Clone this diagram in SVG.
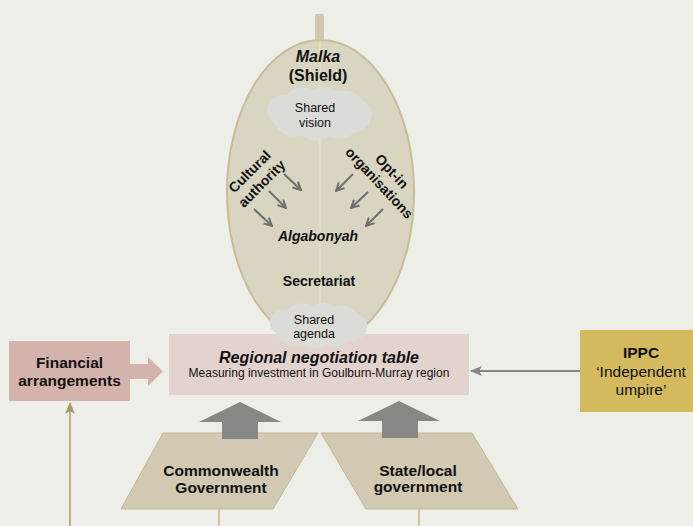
<svg xmlns="http://www.w3.org/2000/svg" width="693" height="526" viewBox="0 0 693 526">
<defs>
<style>
text{font-family:"Liberation Sans",Arial,sans-serif;fill:#111;text-anchor:middle}
.b{font-weight:bold}
.bi{font-weight:bold;font-style:italic}
.small{stroke:#6e6e6e;stroke-width:2;fill:none;marker-end:url(#chev)}
.cloud{fill:#dbdbd7}
.gov{fill:#d1c9b2;stroke:#c2b893;stroke-width:1}
.garrow{fill:#878783}
.tan{stroke:#b4a983;stroke-width:1.2;fill:none}
</style>
<marker id="chev" viewBox="0 0 10 10" refX="9" refY="5" markerWidth="10" markerHeight="10" markerUnits="userSpaceOnUse" orient="auto">
<path d="M1,1 L9,5 L1,9" fill="none" stroke="#6e6e6e" stroke-width="2"/>
</marker>
<marker id="barbGray" viewBox="0 0 12 12" refX="11" refY="6" markerWidth="12" markerHeight="12" markerUnits="userSpaceOnUse" orient="auto">
<path d="M0,1 L12,6 L0,11 L3,6 Z" fill="#858585"/>
</marker>
<marker id="barbTan" viewBox="0 0 12 12" refX="11" refY="6" markerWidth="12" markerHeight="12" markerUnits="userSpaceOnUse" orient="auto">
<path d="M0,1 L12,6 L0,11 L3,6 Z" fill="#a39a6e"/>
</marker>
<path id="cloudShape" d="M-44,9 A13,13 0 0 1 -50,-6 A16,16 0 0 1 -32,-18 A22,22 0 0 1 -6,-23 A20,20 0 0 1 18,-21 A20,20 0 0 1 42,-12 A13,13 0 0 1 50,6 A16,16 0 0 1 34,19 A20,20 0 0 1 10,23 A20,20 0 0 1 -16,22 A22,22 0 0 1 -44,9 Z"/>
</defs>
<rect width="693" height="526" fill="#eeeee9"/>

<g id="shield">
<rect x="315" y="14" width="9" height="30" rx="2" fill="#cfc9ae"/>
<ellipse cx="320.5" cy="192" rx="93.5" ry="152" fill="#d9d5c1" stroke="#c8bd98" stroke-width="2"/>
<line x1="320" y1="42" x2="320" y2="342" stroke="#e7e4d8" stroke-width="1"/>
<text class="bi" x="318" y="62" font-size="16">Malka</text>
<text class="b" x="318" y="81" font-size="16">(Shield)</text>
</g>

<g id="shared-vision">
<use href="#cloudShape" class="cloud" transform="translate(319,113) scale(1.03,1.02)"/>
<text x="315" y="112" font-size="12.5" fill="#222">Shared</text>
<text x="315" y="127" font-size="12.5" fill="#222">vision</text>
</g>

<g id="cultural-authority" transform="translate(255.5,177.5) rotate(-45)">
<text class="b" x="0" y="-3.5" font-size="14">Cultural</text>
<text class="b" x="0" y="13.5" font-size="14">authority</text>
</g>

<g id="opt-in-organisations" transform="translate(385.75,177) rotate(47)">
<text class="b" x="0" y="-3.5" font-size="14">Opt-in</text>
<text class="b" x="0" y="13.5" font-size="14">organisations</text>
</g>

<g id="algabonyah">
<text class="bi" x="318" y="241" font-size="14">Algabonyah</text>
</g>

<g id="secretariat">
<text class="b" x="319" y="286" font-size="14">Secretariat</text>
</g>

<g id="negotiation-table">
<rect x="169" y="334" width="300" height="61" fill="#e3d3ce"/>
<text class="bi" x="319" y="363" font-size="16">Regional negotiation table</text>
<text x="319" y="377" font-size="12">Measuring investment in Goulburn-Murray region</text>
</g>

<g id="shared-agenda">
<use href="#cloudShape" class="cloud" transform="translate(318,325) scale(0.96,0.86)"/>
<text x="314" y="324" font-size="12.5" fill="#222">Shared</text>
<text x="314" y="338" font-size="12.5" fill="#222">agenda</text>
</g>

<g id="financial-arrangements">
<rect x="9" y="341" width="121" height="60" fill="#d5b3ad"/>
<text class="b" x="69.5" y="368" font-size="15.5">Financial</text>
<text class="b" x="69.5" y="386" font-size="15.5">arrangements</text>
</g>

<g id="ippc">
<rect x="580" y="330" width="113" height="82" fill="#d4ba5f"/>
<text class="b" x="641" y="358" font-size="15.5">IPPC</text>
<text x="641" y="377" font-size="15.5">‘Independent</text>
<text x="641" y="395" font-size="15.5">umpire’</text>
</g>

<g id="commonwealth-government">
<polygon class="gov" points="163,433 318,433 273,509 121,509"/>
<text class="b" x="221" y="476" font-size="15.5">Commonwealth</text>
<text class="b" x="221" y="493" font-size="15.5">Government</text>
</g>

<g id="state-local-government">
<polygon class="gov" points="321,433 472,433 518,509 366,509"/>
<text class="b" x="418" y="476" font-size="15.5">State/local</text>
<text class="b" x="418" y="492" font-size="15.5">government</text>
</g>

<g id="connectors">
<line class="small" x1="284" y1="174" x2="301" y2="190"/>
<line class="small" x1="269" y1="191" x2="286" y2="208"/>
<line class="small" x1="254" y1="209" x2="272" y2="226"/>
<line class="small" x1="353" y1="174" x2="336" y2="191"/>
<line class="small" x1="368" y1="192" x2="351" y2="208"/>
<line class="small" x1="383" y1="209" x2="366" y2="226"/>
<polygon points="130,364 148,364 148,357 163,371.5 148,386 148,379 130,379" fill="#d5b3ad"/>
<line x1="580" y1="371" x2="471" y2="371" stroke="#858585" stroke-width="2" marker-end="url(#barbGray)"/>
<polygon class="garrow" points="222,439 222,422 199,422 240,402 281,422 258,422 258,439"/>
<polygon class="garrow" points="382,438 382,421 358,421 399,401 440,421 418,421 418,438"/>
<line x1="70" y1="526" x2="70" y2="403" stroke="#a39a6e" stroke-width="1.5" marker-end="url(#barbTan)"/>
<line class="tan" x1="219" y1="509" x2="219" y2="526"/>
<line class="tan" x1="419" y1="509" x2="419" y2="526"/>
</g>
</svg>
